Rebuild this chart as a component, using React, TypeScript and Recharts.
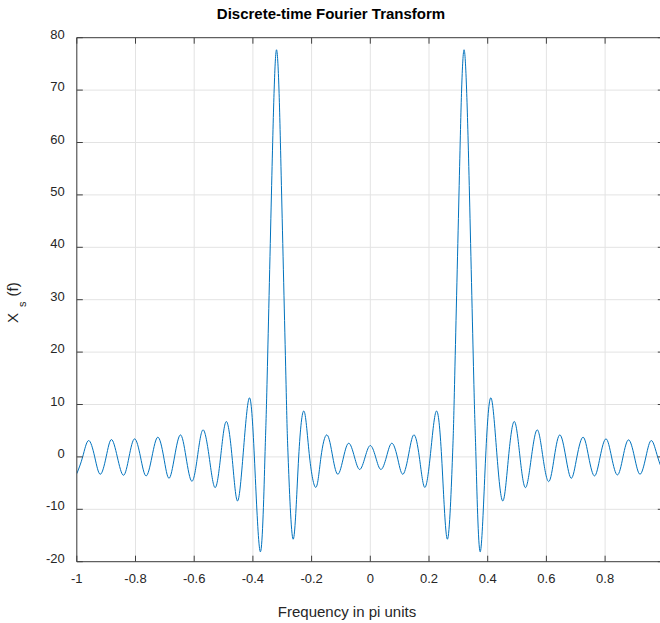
import React from "react";
import { LineChart, Line, XAxis, YAxis, CartesianGrid } from "recharts";

// Frequency (in pi units) of read-off points: extrema and zero crossings
const freq = [
  -1.0, -0.98, -0.96, -0.939, -0.92, -0.9, -0.882, -0.862, -0.841, -0.822,
  -0.803, -0.783, -0.764, -0.744, -0.724, -0.704, -0.686, -0.667, -0.647, -0.628,
  -0.608, -0.589, -0.57, -0.549, -0.529, -0.51, -0.491, -0.471, -0.453, -0.434,
  -0.413, -0.395, -0.374, -0.359, -0.352, -0.337, -0.3275, -0.3195, -0.3112, -0.302,
  -0.287, -0.28, -0.263, -0.244, -0.225, -0.207, -0.185, -0.168, -0.1475, -0.128,
  -0.11, -0.091, -0.073, -0.054, -0.036, -0.0175, 0,
  0.018, 0.036, 0.055, 0.073, 0.092, 0.11, 0.129, 0.148, 0.167, 0.185,
  0.204, 0.224, 0.243, 0.263, 0.28, 0.287, 0.302, 0.3112, 0.3195, 0.328,
  0.338, 0.353, 0.36, 0.374, 0.393, 0.412, 0.432, 0.452, 0.471, 0.491,
  0.51, 0.529, 0.549, 0.569, 0.588, 0.608, 0.627, 0.646, 0.666, 0.685,
  0.704, 0.725, 0.744, 0.764, 0.783, 0.803, 0.822, 0.842, 0.861, 0.88,
  0.9, 0.919, 0.939, 0.958, 0.979, 1.0,
];

// Xs(f) values read at those frequencies
const amp = [
  -3.2, 0, 3.12, 0, -3.31, 0, 3.31, 0, -3.5, 0,
  3.44, 0, -3.63, 0, 3.76, 0, -4.08, 0, 4.2, 0,
  -4.65, 0, 5.16, 0, -5.86, 0, 6.75, 0, -8.4, 0,
  11.2, 0, -18.1, 0, 13.8, 49.8, 70.2, 77.7, 70.2, 49.8,
  13.8, 0, -15.7, 0, 8.66, 0, -5.8, 0, 4.2, 0,
  -3.31, 0, 2.61, 0, -2.4, 0, 2.17,
  0, -2.4, 0, 2.61, 0, -3.31, 0, 4.2, 0, -5.8,
  0, 8.66, 0, -15.7, 0, 13.8, 49.8, 70.2, 77.7, 70.2,
  49.8, 13.8, 0, -18.1, 0, 11.2, 0, -8.4, 0, 6.75,
  0, -5.86, 0, 5.16, 0, -4.71, 0, 4.2, 0, -4.08,
  0, 3.76, 0, -3.63, 0, 3.44, 0, -3.44, 0, 3.25,
  0, -3.31, 0, 3.12, 0, -3.2,
];

const xTicks = [-1, -0.8, -0.6, -0.4, -0.2, 0, 0.2, 0.4, 0.6, 0.8, 1];
const yTicks = [-20, -10, 0, 10, 20, 30, 40, 50, 60, 70, 80];

const titleText = "Discrete-time Fourier Transform";
const xLabelText = "Frequency in pi units";

const data = freq.map((f, i) => ({ f, v: amp[i] }));

const AX = "#404040";
const TXT = "#262626";
const FONT = "'Liberation Sans', Arial, sans-serif";
const TICK = 6;

const BottomTick = (props: any) => {
  const { x, y, payload } = props;
  return (
    <g>
      <line x1={x} x2={x} y1={y} y2={y - TICK} stroke={AX} strokeWidth={1} />
      <text x={x} y={y + 21} textAnchor="middle" fontFamily={FONT} fontSize={13} fill={TXT}>
        {String(payload.value)}
      </text>
    </g>
  );
};

const TopTick = (props: any) => {
  const { x, y } = props;
  return <line x1={x} x2={x} y1={y} y2={y + TICK} stroke={AX} strokeWidth={1} />;
};

const LeftTick = (props: any) => {
  const { x, y, payload } = props;
  return (
    <g>
      <line x1={x} x2={x + TICK} y1={y} y2={y} stroke={AX} strokeWidth={1} />
      <text x={x - 12} y={y + 1} textAnchor="end" fontFamily={FONT} fontSize={13} fill={TXT}>
        {String(payload.value)}
      </text>
    </g>
  );
};

const RightTick = (props: any) => {
  const { x, y } = props;
  return <line x1={x} x2={x - TICK} y1={y} y2={y} stroke={AX} strokeWidth={1} />;
};

export default function App() {
  return (
    <div style={{ position: "absolute", left: 0, top: 0, width: 660, height: 623, overflow: "hidden", background: "#fff" }}>
      <LineChart
        width={680}
        height={623}
        data={data}
        margin={{ top: 36.7, right: 15.2, bottom: 60.3, left: 75.8 }}
      >
        <CartesianGrid stroke="#e3e3e3" strokeWidth={1} />
        <XAxis
          dataKey="f"
          type="number"
          domain={[-1, 1]}
          ticks={xTicks}
          allowDataOverflow
          height={1}
          tickSize={0}
          tickMargin={0}
          tick={<BottomTick />}
          axisLine={{ stroke: AX, strokeWidth: 1 }}
          tickLine={false}
          interval={0}
        />
        <XAxis
          xAxisId="top"
          orientation="top"
          dataKey="f"
          type="number"
          domain={[-1, 1]}
          ticks={xTicks}
          allowDataOverflow
          height={1}
          tickSize={0}
          tickMargin={0}
          tick={<TopTick />}
          axisLine={{ stroke: AX, strokeWidth: 1 }}
          tickLine={false}
          interval={0}
        />
        <YAxis
          type="number"
          domain={[-20, 80]}
          ticks={yTicks}
          allowDataOverflow
          width={1}
          tickSize={0}
          tickMargin={0}
          tick={<LeftTick />}
          axisLine={{ stroke: AX, strokeWidth: 1 }}
          tickLine={false}
          interval={0}
        />
        <YAxis
          yAxisId="right"
          orientation="right"
          type="number"
          domain={[-20, 80]}
          ticks={yTicks}
          allowDataOverflow
          width={1}
          tickSize={0}
          tickMargin={0}
          tick={<RightTick />}
          axisLine={{ stroke: AX, strokeWidth: 1 }}
          tickLine={false}
          interval={0}
        />
        <Line
          type="natural"
          dataKey="v"
          stroke="#0072BD"
          strokeWidth={1}
          dot={false}
          activeDot={false}
          isAnimationActive={false}
        />
      </LineChart>
      <svg
        width={660}
        height={623}
        style={{ position: "absolute", left: 0, top: 0, pointerEvents: "none" }}
      >
        <text x={331} y={19} textAnchor="middle" fontFamily={FONT} fontSize={15} fontWeight="bold" fill="#000">
          {titleText}
        </text>
        <text x={347} y={617} textAnchor="middle" fontFamily={FONT} fontSize={15} fill={TXT}>
          {xLabelText}
        </text>
        <text x={18} y={323} transform="rotate(-90 18 323)" fontFamily={FONT} fontSize={15} fill={TXT}>
          X
          <tspan dx={6} dy={8} fontSize={11}>s</tspan>
          <tspan dx={5} dy={-8}>(f)</tspan>
        </text>
      </svg>
    </div>
  );
}
